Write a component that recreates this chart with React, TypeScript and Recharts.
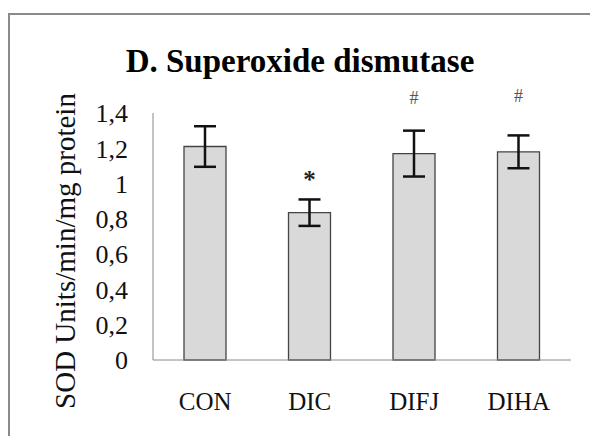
import { BarChart, Bar, XAxis, YAxis, ErrorBar, LabelList } from 'recharts'

const groups = ['CON', 'DIC', 'DIFJ', 'DIHA']
const sodMeans = [1.21, 0.835, 1.17, 1.18]
const sodErrors = [0.115, 0.075, 0.13, 0.093]
const marks = ['', '*', '#', '#']
const yTicks = [0, 0.2, 0.4, 0.6, 0.8, 1, 1.2, 1.4]

const serif = 'Liberation Serif'

const data = groups.map((g, i) => ({
  name: g,
  sod: sodMeans[i],
  err: sodErrors[i],
  mark: marks[i],
}))

function renderMark(props: any) {
  const { x, y, width, value } = props
  if (!value) return null
  const star = value === '*'
  return (
    <text
      x={x + width / 2}
      y={star ? y - 25 : y - 50}
      textAnchor="middle"
      fontFamily={serif}
      fontSize={star ? 25 : 18}
      fontWeight={star ? 'bold' : 'normal'}
      fill={star ? '#222' : '#555'}
    >
      {value}
    </text>
  )
}

export default function App() {
  return (
    <div style={{ position: 'fixed', left: 0, top: 0, width: 590, height: 436, overflow: 'hidden', background: '#fff' }}>
      <svg width={590} height={436} style={{ position: 'absolute', left: 0, top: 0 }}>
        <path d="M9 436 V14 H590" fill="none" stroke="#8a8a8a" strokeWidth={2} />
        <text x={300} y={72} textAnchor="middle" fontFamily={serif} fontWeight="bold" fontSize={33} fill="#000">
          D. Superoxide dismutase
        </text>
        <text
          x={0}
          y={0}
          transform="translate(75 251) rotate(-90)"
          textAnchor="middle"
          fontFamily={serif}
          fontSize={29}
          fill="#111"
        >
          SOD Units/min/mg protein
        </text>
      </svg>
      <div style={{ position: 'absolute', left: 0, top: 0 }}>
        <BarChart
          width={590}
          height={436}
          data={data}
          accessibilityLayer={false}
          style={{ outline: 'none' }}
          margin={{ top: 113, right: 19, left: 0, bottom: 0 }}
        >
          <XAxis
            dataKey="name"
            height={76}
            axisLine={{ stroke: '#8a8a8a' }}
            tickLine={false}
            tickSize={0}
            tickMargin={32}
            tick={{ fill: '#111', fontSize: 25, fontFamily: serif }}
          />
          <YAxis
            width={153}
            domain={[0, 1.4]}
            ticks={yTicks}
            interval={0}
            axisLine={{ stroke: '#8a8a8a' }}
            tickLine={false}
            tickSize={0}
            tickMargin={25}
            tickFormatter={(v: number) => String(v).replace('.', ',')}
            tick={{ fill: '#111', fontSize: 26, fontFamily: serif }}
          />
          <Bar dataKey="sod" barSize={42} fill="#d9d9d9" stroke="#444" strokeWidth={1.3} isAnimationActive={false}>
            <ErrorBar dataKey="err" width={11} stroke="#111" strokeWidth={2.5} />
            <LabelList dataKey="mark" content={renderMark} />
          </Bar>
        </BarChart>
      </div>
    </div>
  )
}
